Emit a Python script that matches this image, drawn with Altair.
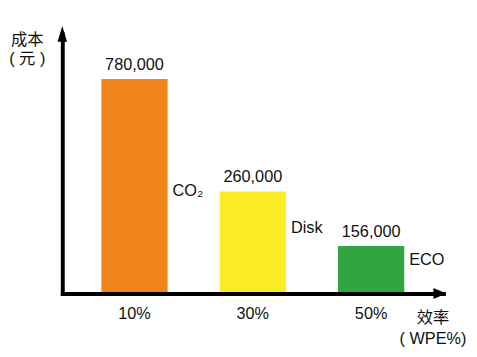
import altair as alt
import pandas as pd

# ---- data ----
categories = ["10%", "30%", "50%"]
series = ["CO₂", "Disk", "ECO"]
bar_heights = [780, 371, 173]          # drawn bar heights (illustrative units as drawn)
value_labels = ["780,000", "260,000", "156,000"]
colors = ["#F0861A", "#FAEB23", "#30A540"]

df = pd.DataFrame({"cat": categories, "name": series, "h": bar_heights, "label": value_labels})

FONT = "Liberation Sans, Arial, Helvetica, Noto Sans CJK SC, sans-serif"
W, H = 386, 263
name_dy = {"CO₂": 4.6, "Disk": -14.3, "ECO": -9.5}

xenc = alt.X(
    "cat:N", sort=categories,
    scale=alt.Scale(paddingInner=0.44, paddingOuter=0.33),
    axis=alt.Axis(
        title=["效率", "( WPE%)"], titleAngle=0, titleAlign="center", titleBaseline="alphabetic",
        titleX=375, titleY=29, titleLineHeight=22, titleFont=FONT, titleFontSize=16.5,
        titleFontWeight="normal", titleColor="#111",
        labelAngle=0, labelFont=FONT, labelFontSize=16.5, labelColor="#111",
        labelBaseline="alphabetic", labelPadding=25,
        ticks=False, tickSize=0, grid=False,
        domainColor="#000", domainWidth=4, domainCap="square", zindex=2,
    ),
)
yenc = alt.Y(
    "h:Q",
    scale=alt.Scale(domain=[0, 944], nice=False, zero=True),
    axis=alt.Axis(
        title=["成本", "( 元 )"], titleAngle=0, titleAlign="center", titleBaseline="alphabetic",
        titleX=-36, titleY=11, titleLineHeight=18.5, titleFont=FONT, titleFontSize=16.5,
        titleFontWeight="normal", titleColor="#111",
        labels=False, ticks=False, tickSize=0, grid=False,
        domainColor="#000", domainWidth=4, domainCap="square", zindex=2,
    ),
)

base = alt.Chart(df)

bars = base.mark_bar().encode(
    x=xenc, y=yenc,
    color=alt.Color("name:N", scale=alt.Scale(domain=series, range=colors), legend=None),
)

values = base.mark_text(baseline="alphabetic", dy=-9.5, fontSize=16.5, font=FONT, color="#111").encode(
    x=alt.X("cat:N", sort=categories), y="h:Q", text="label:N"
)

name_layers = []
for n in series:
    name_layers.append(
        base.transform_filter(alt.datum.name == n)
        .transform_calculate(mid="datum.h / 2")
        .mark_text(align="left", baseline="middle", dx=5, dy=name_dy[n], fontSize=16.5, font=FONT, color="#111")
        .encode(x=alt.X("cat:N", sort=categories, bandPosition=1), y="mid:Q", text="name:N")
    )

one = alt.Data(values=[{"k": 1}])
arrow_up = alt.Chart(one).mark_point(
    shape="M-0.6,1 L0.6,1 L0,-1 Z", filled=True, color="#000", opacity=1, size=256, strokeWidth=0
).encode(x=alt.value(0), y=alt.value(0))
arrow_right = alt.Chart(one).mark_point(
    shape="M-1,-0.85 L1,0 L-1,0.85 Z", filled=True, color="#000", opacity=1, size=169, strokeWidth=0
).encode(x=alt.value(W - 3.5), y=alt.value(H))

chart = alt.layer(bars, values, *name_layers, arrow_up, arrow_right).properties(
    width=W, height=H,
    autosize=alt.AutoSizeParams(type="none"),
    padding={"left": 55, "top": 24, "right": 26, "bottom": 58},
    background="white",
).configure_view(stroke=None)

chart.save("out.html", embed_options={"renderer": "svg", "actions": False})
